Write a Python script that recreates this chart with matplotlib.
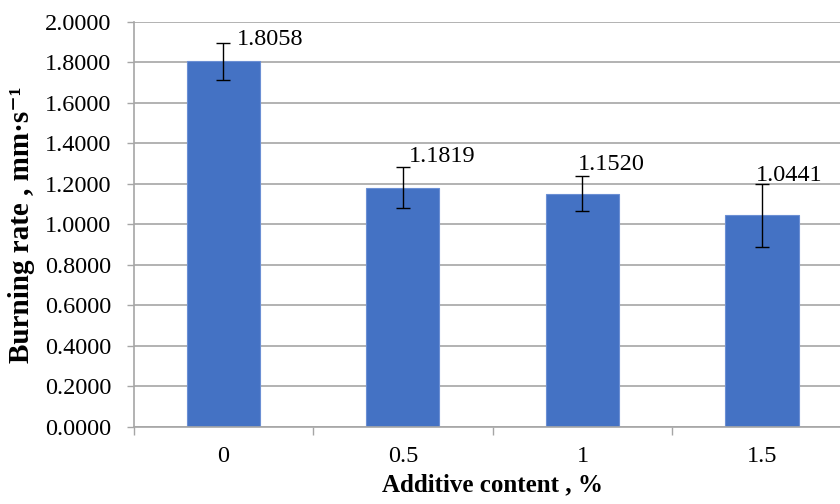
import numpy as np
import matplotlib
matplotlib.use('Agg')
import matplotlib.pyplot as plt

plt.rcParams['font.family'] = ['Liberation Serif', 'DejaVu Serif']

# 数据
categories = ['0', '0.5', '1', '1.5']
rates = [1.8058, 1.1819, 1.1520, 1.0441]
errors = [0.092, 0.100, 0.088, 0.157]
value_labels = ['1.8058', '1.1819', '1.1520', '1.0441']
yticks = [0.0, 0.2, 0.4, 0.6, 0.8, 1.0, 1.2, 1.4, 1.6, 1.8, 2.0]

fig = plt.figure(figsize=(8.4, 5.04), dpi=100)
ax = fig.add_axes([0.159, 0.153, 0.855, 0.8036])

x = np.arange(len(categories))
ax.bar(x, rates, width=0.407, color='#4472C4', edgecolor='#6B8FD4', linewidth=0.8, zorder=2)
ax.errorbar(x, rates, yerr=errors, fmt='none', ecolor='black', elinewidth=1.0,
            capsize=5, capthick=1.0, zorder=3)

# 数据标签（像素偏移）
dx_px = [13.5, 5.5, -5, -6]
dy_px = [-2, 5, 6, 3]
for i in range(len(rates)):
    ax.annotate(value_labels[i], xy=(x[i], rates[i] + errors[i]),
                xytext=(dx_px[i] * 0.72, dy_px[i] * 0.72), textcoords='offset points',
                ha='left', va='baseline', fontsize=17.5)

ax.set_xlim(-0.5, 3.5)
ax.set_ylim(0, 2.0)
ax.set_yticks(yticks)
ax.set_yticklabels([f'{v:.4f}' for v in yticks], fontsize=17.5)
ax.set_xticks(x)
ax.set_xticklabels(categories, fontsize=17.5)
ax.set_xticks(np.arange(-0.5, 3.6, 1.0), minor=True)
ax.tick_params(axis='x', which='major', length=0, pad=14)
ax.tick_params(axis='x', which='minor', length=6, color='#A6A6A6', width=1)
ax.tick_params(axis='y', length=5, color='#A6A6A6', width=1, pad=11)

ax.grid(axis='y', color='#A6A6A6', linewidth=1.2, zorder=0)
ax.set_axisbelow(True)
for s in ['top', 'right']:
    ax.spines[s].set_visible(False)
ax.spines['left'].set_color('#A6A6A6')
ax.spines['bottom'].set_color('#A6A6A6')
ax.spines['left'].set_linewidth(1.2)
ax.spines['bottom'].set_linewidth(1.2)

ax.set_xlabel('Additive content , %', fontsize=18, fontweight='bold', labelpad=4)
ax.set_ylabel('Burning rate , mm·s⁻¹', fontsize=21, fontweight='bold', labelpad=7)

plt.savefig('out.png', dpi=100)
